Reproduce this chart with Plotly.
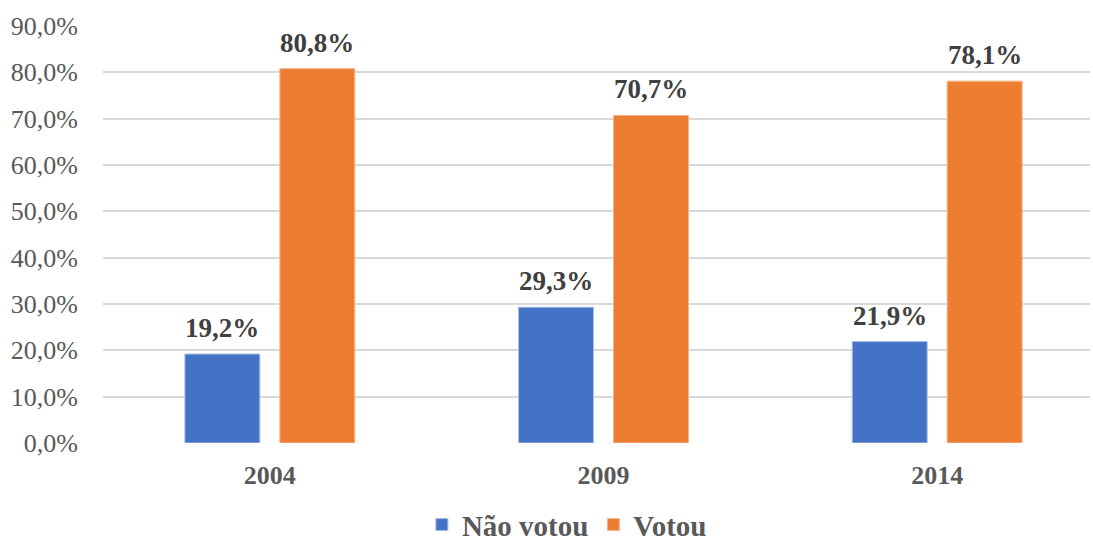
import plotly.graph_objects as go

anos = ["2004", "2009", "2014"]
nao_votou = [19.2, 29.3, 21.9]
votou = [80.8, 70.7, 78.1]
y_ticks = [0, 10, 20, 30, 40, 50, 60, 70, 80, 90]

SERIF = "Liberation Serif, Times New Roman, serif"

BARGAP = 0.431
BARGROUPGAP = 0.2105

def fmt(v):
    return f"{v:.1f}%".replace(".", ",")

x_pos = list(range(len(anos)))

series = [
    ("Não votou", nao_votou, "#4472C4", "#A9BEE6"),
    ("Votou", votou, "#ED7D31", "#F5B58C"),
]

fig = go.Figure()
for nome, vals, cor, borda in series:
    fig.add_trace(go.Bar(
        name=f"<b>{nome}</b>", x=x_pos, y=vals,
        marker=dict(color=cor, line=dict(color=borda, width=1)),
        hovertemplate="%{y:.1f}%<extra>" + nome + "</extra>",
    ))

# value labels above each bar, centred on the bar inside its group
slot = (1 - BARGAP) / len(series)
for k, (nome, vals, cor, borda) in enumerate(series):
    dx = (k - (len(series) - 1) / 2) * slot
    for xi, v in zip(x_pos, vals):
        fig.add_annotation(
            x=xi + dx, y=v, text=f"<b>{fmt(v)}</b>",
            showarrow=False, yanchor="bottom", yshift=9,
            font=dict(family=SERIF, size=27, color="#404040"),
        )

fig.update_layout(
    width=1093, height=541,
    margin=dict(l=103, r=3, t=26, b=98, autoexpand=False),
    paper_bgcolor="white", plot_bgcolor="white",
    barmode="group", bargap=BARGAP, bargroupgap=BARGROUPGAP,
    font=dict(family=SERIF, color="#595959"),
    xaxis=dict(
        tickmode="array", tickvals=x_pos,
        ticktext=[f"<b>{a}</b>" for a in anos],
        range=[-0.5, 2.458],
        tickfont=dict(family=SERIF, size=26, color="#595959"),
        showgrid=False, zeroline=False, showline=False, ticks="",
        ticklabelstandoff=14,
    ),
    yaxis=dict(
        range=[0, 90], tickvals=y_ticks,
        ticktext=[fmt(v) for v in y_ticks],
        tickfont=dict(family=SERIF, size=26, color="#595959"),
        gridcolor="#D9D9D9", gridwidth=1.5,
        zeroline=False, showline=False, ticks="",
        ticklabelstandoff=24,
    ),
    legend=dict(
        orientation="h", x=0.47, xanchor="center",
        y=-0.196, yanchor="middle",
        font=dict(family=SERIF, size=29, color="#595959"),
        itemwidth=30,
    ),
)

fig.write_html("out.html")
